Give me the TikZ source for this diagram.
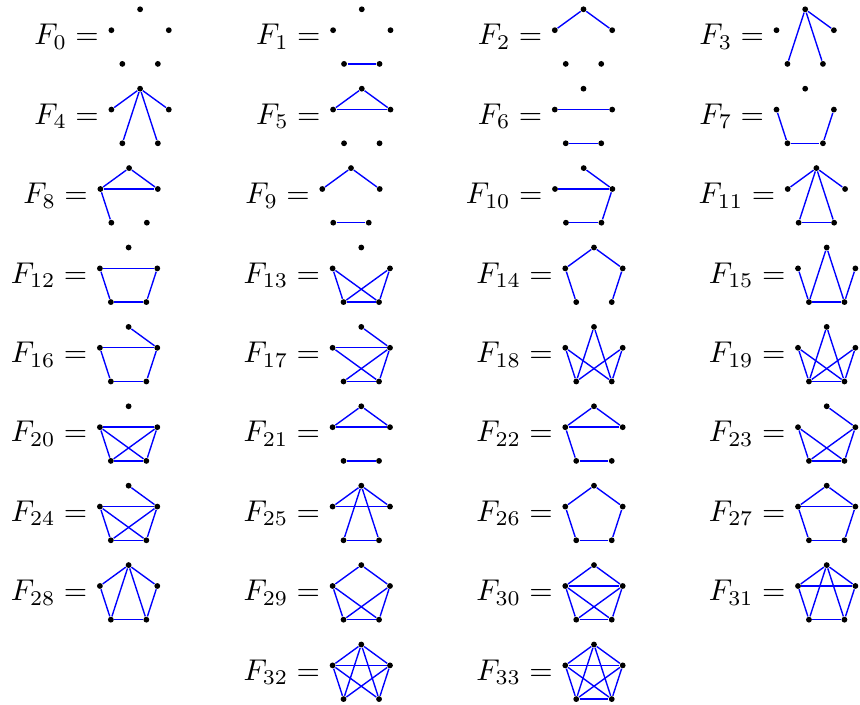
\documentclass[tikz,border=0pt]{standalone}
\tikzset{
  dot/.style={circle, fill=black, inner sep=0pt, minimum size=2.1pt},
  edge/.style={draw=blue, line width=0.5pt},
  lbl/.style={inner sep=0pt, font=\normalsize, scale=1.085}
}
\newcommand\fgraph[3]{%
  \node[dot] (g#1a) at (#2+28.7, #3) {};
  \node[dot] (g#1b) at (#2, #3+20.9) {};
  \node[dot] (g#1c) at (#2+57.4, #3+20.9) {};
  \node[dot] (g#1d) at (#2+10.95, #3+54.6) {};
  \node[dot] (g#1e) at (#2+46.45, #3+54.6) {};
  \node[lbl, anchor=base east] (l#1) at (#2-12, #3+35.7) {$F_{#1} =$};
}
\newcommand\fedges[2]{%
  \foreach \u/\v in {#2} {\draw[edge] (g#1\u) -- (g#1\v);}
}
\begin{document}
\begin{tikzpicture}[x=0.3615pt, y=-0.3615pt]
\useasboundingbox (0,0) rectangle (860,705);
% row 0
\fgraph{0}{111.4}{9.3}
\fgraph{1}{333.1}{9.3}   \fedges{1}{d/e}
\fgraph{2}{554.8}{9.3}   \fedges{2}{a/b, a/c}
\fgraph{3}{776.5}{9.3}   \fedges{3}{a/c, a/d, a/e}
% row 1
\fgraph{4}{111.4}{88.7}  \fedges{4}{a/b, a/c, a/d, a/e}
\fgraph{5}{333.1}{88.7}  \fedges{5}{a/b, a/c, b/c}
\fgraph{6}{554.8}{88.7}  \fedges{6}{b/c, d/e}
\fgraph{7}{776.5}{88.7}  \fedges{7}{b/d, d/e, c/e}
% row 2
\fgraph{8}{100.4}{168.1}  \fedges{8}{a/b, a/c, b/c, b/d}
\fgraph{9}{322.3}{168.1}  \fedges{9}{a/b, a/c, d/e}
\fgraph{10}{555.0}{168.1} \fedges{10}{a/c, b/c, c/e, d/e}
\fgraph{11}{787.7}{168.1} \fedges{11}{a/b, a/c, a/d, a/e, d/e}
% row 3
\fgraph{12}{99.9}{247.5}  \fedges{12}{b/c, b/d, c/e, d/e}
\fgraph{13}{332.6}{247.5} \fedges{13}{b/d, b/e, c/d, c/e, d/e}
\fgraph{14}{565.3}{247.5} \fedges{14}{a/b, a/c, b/d, c/e}
\fgraph{15}{798.0}{247.5} \fedges{15}{a/d, a/e, b/d, c/e, d/e}
% row 4
\fgraph{16}{99.9}{326.9}  \fedges{16}{a/c, b/c, b/d, c/e, d/e}
\fgraph{17}{332.6}{326.9} \fedges{17}{a/c, b/c, b/e, c/d, c/e, d/e}
\fgraph{18}{565.3}{326.9} \fedges{18}{a/d, a/e, b/d, b/e, c/d, c/e}
\fgraph{19}{798.0}{326.9} \fedges{19}{a/d, a/e, b/d, b/e, c/d, c/e, d/e}
% row 5
\fgraph{20}{99.9}{406.3}  \fedges{20}{b/c, b/d, b/e, c/d, c/e, d/e}
\fgraph{21}{332.6}{406.3} \fedges{21}{a/b, a/c, b/c, d/e}
\fgraph{22}{565.3}{406.3} \fedges{22}{a/b, a/c, b/c, b/d, d/e}
\fgraph{23}{798.0}{406.3} \fedges{23}{a/c, b/d, b/e, c/d, c/e, d/e}
% row 6
\fgraph{24}{99.9}{485.7}  \fedges{24}{a/c, b/c, b/d, b/e, c/d, c/e, d/e}
\fgraph{25}{332.6}{485.7} \fedges{25}{a/b, a/c, a/d, a/e, b/c, d/e}
\fgraph{26}{565.3}{485.7} \fedges{26}{a/b, a/c, b/d, c/e, d/e}
\fgraph{27}{798.0}{485.7} \fedges{27}{a/b, a/c, b/c, b/d, c/e, d/e}
% row 7
\fgraph{28}{99.9}{565.1}  \fedges{28}{a/b, a/c, a/d, a/e, b/d, c/e, d/e}
\fgraph{29}{332.6}{565.1} \fedges{29}{a/b, a/c, b/d, b/e, c/d, c/e, d/e}
\fgraph{30}{565.3}{565.1} \fedges{30}{a/b, a/c, b/c, b/d, b/e, c/d, c/e, d/e}
\fgraph{31}{798.0}{565.1} \fedges{31}{a/b, a/c, a/d, a/e, b/c, b/d, c/e, d/e}
% row 8
\fgraph{32}{332.6}{644.5} \fedges{32}{a/b, a/c, a/d, a/e, b/c, b/d, b/e, c/d, c/e}
\fgraph{33}{565.3}{644.5} \fedges{33}{a/b, a/c, a/d, a/e, b/c, b/d, b/e, c/d, c/e, d/e}
\end{tikzpicture}
\end{document}
